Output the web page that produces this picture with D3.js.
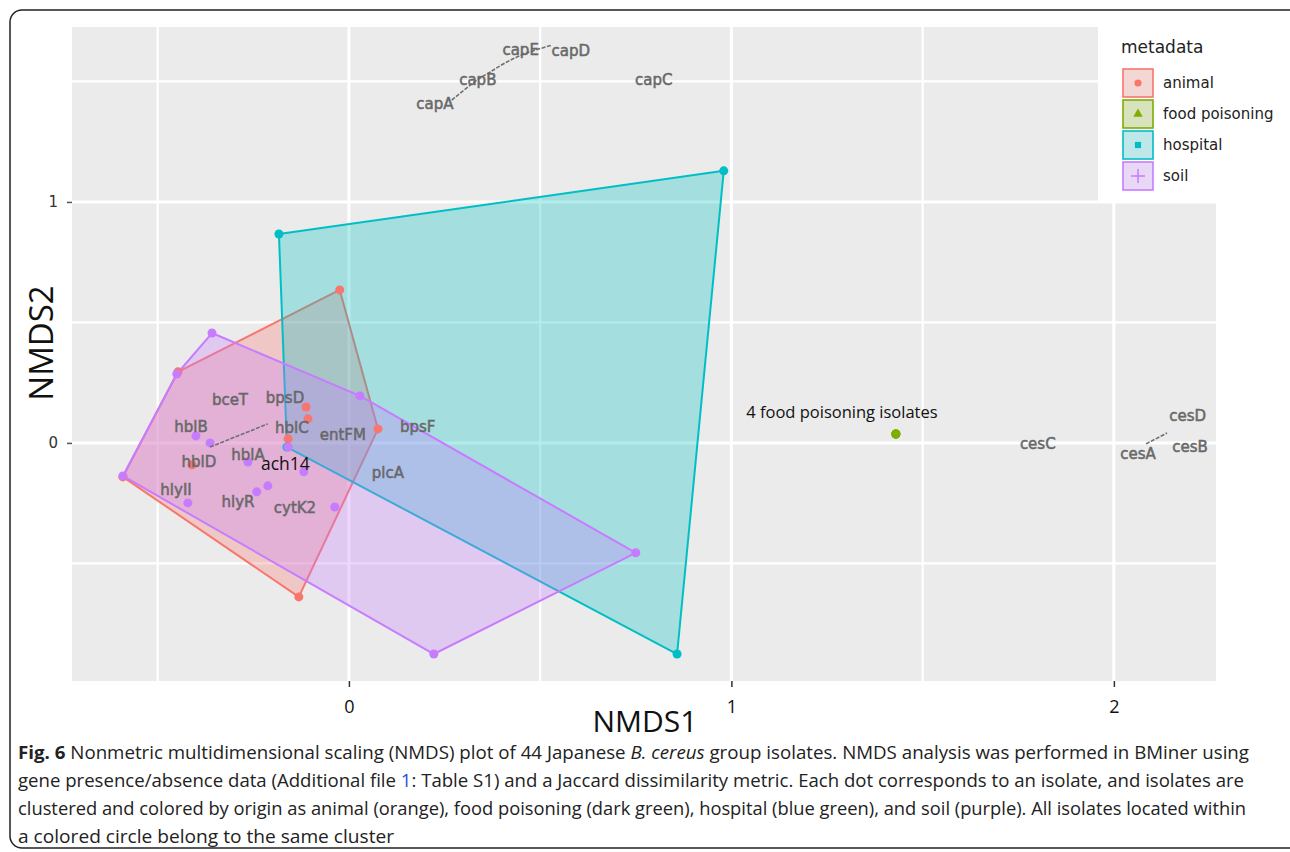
<!DOCTYPE html>
<html>
<head>
<meta charset="utf-8">
<script src="https://cdn.jsdelivr.net/npm/d3@7"></script>
<style>
  html, body { margin: 0; padding: 0; background: #fff; }
  svg { display: block; }
</style>
</head>
<body>
<svg id="fig" width="1290" height="852"></svg>
<script>
// ---- data -------------------------------------------------------------
const groups = ["animal", "food poisoning", "hospital", "soil"];
const groupColors = ["#F8766D", "#7CAE00", "#00BFC4", "#C77CFF"];

// NMDS coordinates of the isolates, per origin
const animalPts = [[-0.024, 0.635], [0.076, 0.058], [-0.131, -0.639], [-0.591, -0.141],
  [-0.447, 0.295], [-0.112, 0.149], [-0.107, 0.100], [-0.159, 0.017], [-0.410, -0.091]];
const foodPts = [[1.430, 0.037], [1.430, 0.037], [1.430, 0.037], [1.430, 0.037]];
const hospitalPts = [[-0.183, 0.867], [0.980, 1.129], [0.858, -0.876], [-0.162, -0.017]];
const soilPts = [[-0.358, 0.456], [-0.450, 0.286], [-0.591, -0.137], [0.222, -0.876],
  [0.750, -0.456], [0.029, 0.195], [-0.400, 0.029], [-0.363, 0.000], [-0.264, -0.079],
  [-0.118, -0.120], [-0.241, -0.203], [-0.212, -0.178], [-0.421, -0.249], [-0.037, -0.266],
  [-0.159, -0.017]];

// gene label positions
const geneNames = ["capA", "capB", "capE", "capD", "capC", "bceT", "bpsD", "hblB", "hblC",
  "entFM", "bpsF", "hblD", "hblA", "hlyII", "hlyR", "cytK2", "plcA", "cesC", "cesA", "cesB", "cesD"];
const geneX = [0.225, 0.337, 0.449, 0.580, 0.797, -0.311, -0.167, -0.413, -0.149,
  -0.016, 0.180, -0.392, -0.264, -0.452, -0.290, -0.141, 0.102, 1.801, 2.063, 2.199, 2.193];
const geneY = [1.407, 1.506, 1.631, 1.627, 1.506, 0.178, 0.187, 0.066, 0.062,
  0.033, 0.066, -0.079, -0.050, -0.195, -0.245, -0.270, -0.124, -0.004, -0.046, -0.017, 0.112];

// leader lines joining crowded labels
const capLine = [[0.269, 1.423], [0.335, 1.506], [0.369, 1.539], [0.413, 1.581], [0.465, 1.618], [0.531, 1.651]];
const hblLine = [[-0.363, -0.017], [-0.212, 0.079]];
const cesLine = [[2.084, -0.004], [2.139, 0.041]];

// free annotations
const notes = [
  { text: "4 food poisoning isolates", x: 1.289, y: 0.129 },
  { text: "ach14", x: -0.166, y: -0.085 }
];

const xTicks = [0, 1, 2];
const yTicks = [0, 1];
const xGrid = [-0.5, 0, 0.5, 1, 1.5, 2];
const yGrid = [-0.5, 0, 0.5, 1, 1.5];

const captionLines = [
  [["Fig. 6", "b"], [" Nonmetric multidimensional scaling (NMDS) plot of 44 Japanese ", ""], ["B. cereus", "i"], [" group isolates. NMDS analysis was performed in BMiner using", ""]],
  [["gene presence/absence data (Additional file ", ""], ["1", "link"], [": Table S1) and a Jaccard dissimilarity metric. Each dot corresponds to an isolate, and isolates are", ""]],
  [["clustered and colored by origin as animal (orange), food poisoning (dark green), hospital (blue green), and soil (purple). All isolates located within", ""]],
  [["a colored circle belong to the same cluster", ""]]
];
const captionWidths = [1231, 1226, 1228, 376];

// ---- layout -----------------------------------------------------------
const svg = d3.select("#fig");
const panel = { left: 72, right: 1216, top: 27, bottom: 681 };

const x = d3.scaleLinear().domain([-0.724, 2.267]).range([panel.left, panel.right]);
const y = d3.scaleLinear().domain([-0.988, 1.726]).range([panel.bottom, panel.top]);

// outer frame
svg.append("rect")
  .attr("x", 10).attr("y", 10).attr("width", 1300).attr("height", 838)
  .attr("rx", 12).attr("fill", "#fff").attr("stroke", "#222").attr("stroke-width", 1.5);

// panel background
svg.append("rect")
  .attr("x", panel.left).attr("y", panel.top)
  .attr("width", panel.right - panel.left).attr("height", panel.bottom - panel.top)
  .attr("fill", "#EBEBEB");

// grid
const grid = svg.append("g");
grid.selectAll("line.gx").data(xGrid).join("line")
  .attr("x1", d => x(d)).attr("x2", d => x(d))
  .attr("y1", panel.top).attr("y2", panel.bottom)
  .attr("stroke", "#fff").attr("stroke-width", d => Number.isInteger(d) ? 3 : 2.2);
grid.selectAll("line.gy").data(yGrid).join("line")
  .attr("y1", d => y(d)).attr("y2", d => y(d))
  .attr("x1", panel.left).attr("x2", panel.right)
  .attr("stroke", "#fff").attr("stroke-width", d => Number.isInteger(d) ? 3 : 2.2);

// hulls and points
const allGroups = [animalPts, foodPts, hospitalPts, soilPts];
const hullLayer = svg.append("g");
allGroups.forEach((pts, i) => {
  const hull = d3.polygonHull(pts.map(p => [x(p[0]), y(p[1])]));
  if (!hull) return;
  hullLayer.append("path")
    .attr("d", "M" + hull.map(p => p.join(",")).join("L") + "Z")
    .attr("fill", groupColors[i]).attr("fill-opacity", 0.3)
    .attr("stroke", groupColors[i]).attr("stroke-width", 2)
    .attr("stroke-linejoin", "round");
});

const pointLayer = svg.append("g");
allGroups.forEach((pts, i) => {
  pointLayer.selectAll(null).data(pts).join("circle")
    .attr("cx", d => x(d[0])).attr("cy", d => y(d[1]))
    .attr("r", 4.5).attr("fill", groupColors[i]);
});

// leader lines
const line = d3.line().x(d => x(d[0])).y(d => y(d[1])).curve(d3.curveCatmullRom);
[capLine, hblLine, cesLine].forEach(seg => {
  svg.append("path").attr("d", line(seg))
    .attr("fill", "none").attr("stroke", "#707070")
    .attr("stroke-width", 1.6).attr("stroke-dasharray", "4,1.5");
});

// gene labels
svg.append("g").selectAll("text").data(geneNames).join("text")
  .attr("x", (d, i) => x(geneX[i])).attr("y", (d, i) => y(geneY[i]))
  .attr("text-anchor", "middle").attr("dominant-baseline", "central")
  .attr("font-family", "DejaVu Sans, sans-serif").attr("font-size", 15)
  .attr("fill", "#686868").attr("stroke", "#686868").attr("stroke-width", 0.5)
  .text(d => d);

// annotations
svg.append("g").selectAll("text").data(notes).join("text")
  .attr("x", d => x(d.x)).attr("y", d => y(d.y))
  .attr("text-anchor", "middle").attr("dominant-baseline", "central")
  .attr("font-family", "Open Sans, sans-serif")
  .attr("font-size", (d, i) => i === 0 ? 16.5 : 17.5)
  .attr("fill", "#111").text(d => d.text);

// axes
const yAxis = svg.append("g").attr("transform", `translate(${panel.left},0)`)
  .call(d3.axisLeft(y).tickValues(yTicks).tickSize(5).tickPadding(9).tickFormat(d3.format("d")));
yAxis.select(".domain").remove();
yAxis.selectAll(".tick line").attr("stroke", "#555").attr("stroke-width", 1.5);
yAxis.selectAll(".tick text").attr("font-family", "DejaVu Sans, sans-serif")
  .attr("font-size", 15).attr("fill", "#333");

const xAxis = svg.append("g").attr("transform", `translate(0,${panel.bottom})`)
  .call(d3.axisBottom(x).tickValues(xTicks).tickSize(6).tickPadding(13).tickFormat(d3.format("d")));
xAxis.select(".domain").remove();
xAxis.selectAll(".tick line").attr("stroke", "#333").attr("stroke-width", 1.5);
xAxis.selectAll(".tick text").attr("font-family", "Liberation Sans Narrow, Open Sans, sans-serif")
  .attr("font-size", 18).attr("fill", "#111");

svg.append("text")
  .attr("x", 645).attr("y", 720).attr("text-anchor", "middle").attr("dominant-baseline", "central")
  .attr("font-family", "Liberation Sans Narrow, Open Sans, sans-serif").attr("font-size", 30)
  .attr("fill", "#111").text("NMDS1");
svg.append("text")
  .attr("transform", "translate(40,343) rotate(-90)")
  .attr("text-anchor", "middle").attr("dominant-baseline", "central")
  .attr("font-family", "Liberation Sans Narrow, Open Sans, sans-serif").attr("font-size", 33)
  .attr("fill", "#111").text("NMDS2");

// legend
const lg = svg.append("g");
lg.append("rect").attr("x", 1098).attr("y", 20).attr("width", 192).attr("height", 181).attr("fill", "#fff");
lg.append("text").attr("x", 1121).attr("y", 47).attr("dominant-baseline", "central")
  .attr("font-family", "DejaVu Sans, sans-serif").attr("font-size", 17).attr("fill", "#222")
  .text("metadata");
groups.forEach((g, i) => {
  const cy = 83 + i * 31;
  const c = groupColors[i];
  lg.append("rect").attr("x", 1123).attr("y", cy - 14).attr("width", 30).attr("height", 28)
    .attr("fill", "#F2F2F2");
  lg.append("rect").attr("x", 1123).attr("y", cy - 14).attr("width", 30).attr("height", 28)
    .attr("fill", c).attr("fill-opacity", 0.22).attr("stroke", c).attr("stroke-width", 1.6);
  const sym = [d3.symbolCircle, d3.symbolTriangle, d3.symbolSquare, d3.symbolCross][i];
  if (i === 3) {
    lg.append("path").attr("d", `M1131,${cy}H1145M1138,${cy - 7}V${cy + 7}`)
      .attr("stroke", c).attr("stroke-width", 1.5);
  } else {
    lg.append("path").attr("transform", `translate(1138,${cy})`)
      .attr("d", d3.symbol().type(sym).size(i === 0 ? 40 : 38)()).attr("fill", c);
  }
  lg.append("text").attr("x", 1163).attr("y", cy).attr("dominant-baseline", "central")
    .attr("font-family", "DejaVu Sans, sans-serif").attr("font-size", 15).attr("fill", "#222")
    .text(g);
});

// caption
const capG = svg.append("g");
captionLines.forEach((parts, li) => {
  const t = capG.append("text")
    .attr("x", 18).attr("y", 759 + li * 28)
    .attr("font-family", "Liberation Sans Narrow, Open Sans, sans-serif")
    .attr("font-size", 18).attr("fill", "#222")
    .attr("textLength", captionWidths[li]).attr("lengthAdjust", "spacingAndGlyphs");
  parts.forEach(([s, style]) => {
    const ts = t.append("tspan").text(s);
    if (style === "b") ts.attr("font-weight", "bold");
    if (style === "i") ts.attr("font-style", "italic");
    if (style === "link") ts.attr("fill", "#2a4fd6");
  });
});
</script>
</body>
</html>
